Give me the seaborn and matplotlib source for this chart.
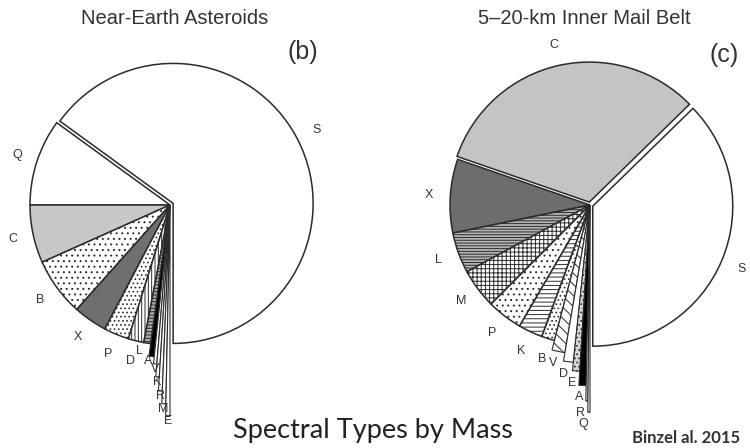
import matplotlib
matplotlib.use("Agg")
import matplotlib.pyplot as plt
import seaborn as sns
import numpy as np

nea_types = ["S", "Q", "C", "B", "X", "P", "D", "L", "A", "V", "K", "R", "M", "E"]
nea_mass = [65.0, 10.0, 6.7, 6.7, 3.9, 2.9, 1.8, 0.8, 0.55, 0.33, 0.33, 0.33, 0.33, 0.33]

belt_types = ["S", "C", "X", "L", "M", "P", "K", "B", "V", "D", "E", "A", "R", "Q"]
belt_mass = [37.3, 32.4, 8.5, 4.7, 4.6, 4.1, 2.8, 1.5, 1.4, 1.0, 0.7, 0.64, 0.17, 0.17]

# styles
sns.set_theme(style="white")
plt.rcParams["font.family"] = ["Liberation Sans", "DejaVu Sans"]
plt.rcParams["hatch.color"] = "#4a4a4a"
plt.rcParams["hatch.linewidth"] = 0.7

EDGE = "#2b2b2b"
R = 140

nea_faces = ["white", "white", "#c7c7ca", "white", "#6f6f6f", "white", "white",
             "#a9a9a9", "black", "white", "white", "white", "white", "white"]
nea_hatch = ["", "", "", "...", "", "....", "|||||", "-----", "", "", "", "", "", ""]
nea_reach = [1, 1, 1, 1, 1, 1, 1, 1, 1.09, 1.14, 1.23, 1.33, 1.42, 1.51]
nea_explode = [3.5] + [0] * 13

belt_faces = ["white", "#c4c4c6", "#6d6d6d", "#b4b4b4", "white", "white", "white",
              "white", "white", "white", "#d8d8d8", "black", "white", "white"]
belt_hatch = ["", "", "", "------", "++++", "...", "----", "....", "\\\\\\", "", "....", "", "", ""]
belt_reach = [1, 1, 1, 1, 1, 1, 1, 1, 1.07, 1.13, 1.19, 1.29, 1.40, 1.48]
belt_explode = [3, 3] + [0] * 12


def draw_pie(ax, types, mass, center, faces, hatches, reach, explode, pad):
    wedges, texts = ax.pie(mass, labels=types, startangle=-90, counterclock=True,
                           center=center, radius=R, explode=explode, colors=faces,
                           wedgeprops=dict(edgecolor=EDGE, linewidth=1.1),
                           textprops=dict(fontsize=9, color="#333333"))
    for w, h, f, m, t in zip(wedges, hatches, reach, mass, texts):
        w.set_hatch(h)
        w.set_radius(R * f)
        mid = np.deg2rad((w.theta1 + w.theta2) / 2)
        cx, cy = w.center
        shift = 0
        if f > 1:
            w.set_linewidth(0.8)
            d = R * f + pad
            if m < 0.3:
                shift = -6
            elif m > 0.5:
                shift = -3
        elif m < 1:
            d = R * 1.06
            shift = -6
        else:
            d = R * 1.15
        t.set_position((cx + d * np.cos(mid) + shift, cy + d * np.sin(mid)))
        t.set_ha("center")
        t.set_va("center")


fig = plt.figure(figsize=(7.5, 4.48), dpi=100)
ax = fig.add_axes([0, 0, 1, 1])

draw_pie(ax, nea_types, nea_mass, (170, 243), nea_faces, nea_hatch, nea_reach, nea_explode, 5)
draw_pie(ax, belt_types, belt_mass, (590, 243), belt_faces, belt_hatch, belt_reach, belt_explode, 12)

ax.set_xlim(0, 750)
ax.set_ylim(0, 448)
ax.set_aspect("equal")
ax.axis("off")

ax.text(175, 430, "Near-Earth Asteroids", ha="center", va="center", fontsize=14.5, color="#333333")
ax.text(584, 430, "5\u201320-km Inner Mail Belt", ha="center", va="center", fontsize=14.5, color="#333333")
ax.text(303, 396, "(b)", ha="center", va="center", fontsize=18, color="#333333")
ax.text(724, 393, "(c)", ha="center", va="center", fontsize=18, color="#333333")

ax.text(373, 18, "Spectral Types by Mass", ha="center", va="center", fontsize=19.5,
        color="#222222", family=["Lato", "DejaVu Sans"])
ax.text(686, 10, "Binzel al. 2015", ha="center", va="center", fontsize=12,
        color="#333333", family=["Lato", "DejaVu Sans"], fontweight="bold")

fig.savefig("out.png", dpi=100)
